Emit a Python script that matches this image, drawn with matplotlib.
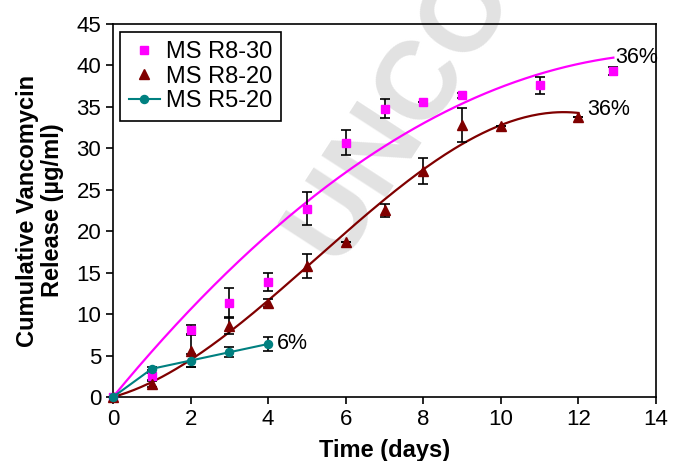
import numpy as np
import matplotlib.pyplot as plt

plt.rcParams['font.family'] = ['Liberation Sans', 'DejaVu Sans']

# MS R8-30
days_r830 = [0, 1, 2, 3, 4, 5, 6, 7, 8, 9, 11, 12.9]
rel_r830 = [0, 2.5, 8.1, 11.3, 13.9, 22.7, 30.7, 34.8, 35.6, 36.4, 37.6, 39.3]
err_r830 = [0, 0.4, 0.6, 1.8, 1.1, 2.0, 1.5, 1.15, 0, 0.3, 1.05, 0.5]

# MS R8-20
days_r820 = [0, 1, 2, 3, 4, 5, 6, 7, 8, 9, 10, 12]
rel_r820 = [0, 1.6, 5.6, 8.6, 11.3, 15.8, 18.7, 22.5, 27.3, 32.8, 32.7, 33.8]
err_r820 = [0, 0.35, 2.0, 1.0, 0.5, 1.5, 0, 0.75, 1.55, 2.05, 0, 0]

# MS R5-20
days_r520 = [0, 1, 2, 3, 4]
rel_r520 = [0, 3.4, 4.4, 5.4, 6.4]
err_r520 = [0, 0.2, 0.8, 0.6, 0.8]

magenta = '#ff00ff'
maroon = '#800000'
teal = '#008080'


# polynomial trendline with intercept set to 0 (like excel)
def trend(x, y, deg):
    x = np.asarray(x, float)
    A = np.column_stack([x ** k for k in range(1, deg + 1)])
    coef = np.linalg.lstsq(A, np.asarray(y, float), rcond=None)[0]
    xs = np.linspace(0, x[-1], 200)
    return xs, sum(c * xs ** (k + 1) for k, c in enumerate(coef))


fig = plt.figure(figsize=(6.75, 4.61), dpi=100)
ax = fig.add_axes([0.1674, 0.1388, 0.8045, 0.8092])

# watermark
ax.text(0.503, 0.413, 'UNCORRECTED PROOF', transform=fig.transFigure,
        rotation=57, rotation_mode='anchor', ha='left', va='baseline',
        fontsize=80, fontweight='bold', color='#e2e2e2', clip_on=False, zorder=0)

xs, ys = trend(days_r830, rel_r830, 2)
ax.plot(xs, ys, color=magenta, lw=1.6, zorder=2)
xs, ys = trend(days_r820, rel_r820, 3)
ax.plot(xs, ys, color=maroon, lw=1.6, zorder=2)

eb = dict(fmt='none', ecolor='black', elinewidth=1.2, capsize=3.5, capthick=1.2,
          clip_on=False, zorder=3)
ax.errorbar(days_r830, rel_r830, yerr=err_r830, **eb)
ax.errorbar(days_r820, rel_r820, yerr=err_r820, **eb)
ax.errorbar(days_r520, rel_r520, yerr=err_r520, **eb)

ax.plot(days_r830, rel_r830, 's', color=magenta, ms=6.3, label='MS R8-30',
        clip_on=False, zorder=4)
ax.plot(days_r820, rel_r820, '^', color=maroon, ms=6.8, label='MS R8-20',
        clip_on=False, zorder=4)
ax.plot(days_r520, rel_r520, '-o', color=teal, ms=5.8, lw=1.5, label='MS R5-20',
        clip_on=False, zorder=5)

ax.text(12.94, 40.9, '36%', fontsize=15.5, va='center', ha='left')
ax.text(12.22, 34.7, '36%', fontsize=15.5, va='center', ha='left')
ax.text(4.22, 6.4, '6%', fontsize=15.5, va='center', ha='left')

ax.set_xlim(0, 14)
ax.set_ylim(0, 45)
ax.set_xticks(range(0, 15, 2))
ax.set_yticks(range(0, 46, 5))
ax.tick_params(labelsize=16, direction='out', length=5, width=1.2)
for s in ax.spines.values():
    s.set_linewidth(1.2)

ax.set_xlabel('Time (days)', fontsize=17, fontweight='bold')
ax.set_ylabel('Cumulative Vancomycin\nRelease (µg/ml)', fontsize=17,
              fontweight='bold', linespacing=1.1)
ax.xaxis.set_label_coords(0.5, -0.112)
ax.yaxis.set_label_coords(-0.09, 0.5)

leg = ax.legend(loc='upper left', bbox_to_anchor=(0.013, 0.979),
                borderaxespad=0, fontsize=17, fancybox=False, edgecolor='black',
                framealpha=1, handlelength=1.3, handletextpad=0.25,
                labelspacing=0.12, borderpad=0.38)
leg.get_frame().set_linewidth(1.2)

fig.savefig('out.png', dpi=100)
